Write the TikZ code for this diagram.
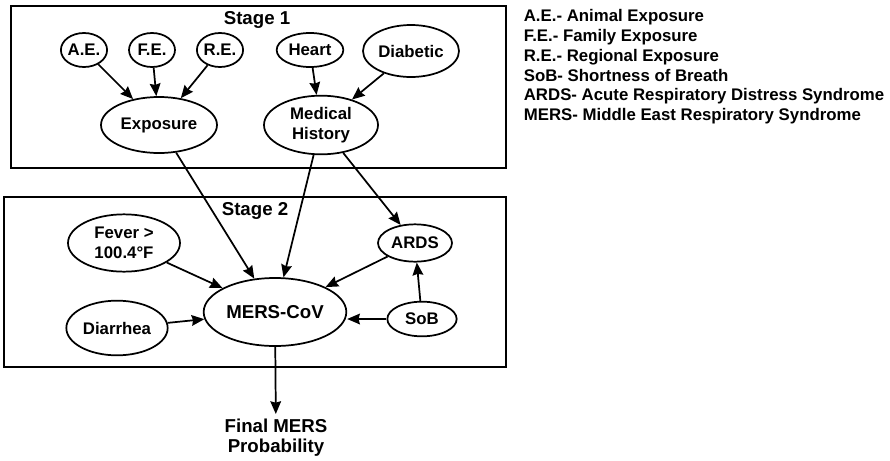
\documentclass[tikz,border=0pt]{standalone}
\usepackage{fontspec}
\setmainfont{Liberation Sans}
\usetikzlibrary{arrows.meta}
\usetikzlibrary{positioning}
\usetikzlibrary{shapes.geometric}

\begin{document}
\begin{tikzpicture}[x=0.75pt, y=-0.75pt, ->, >={Stealth[length=9.5pt, width=8pt, inset=1pt]}, line width=1.3pt,
    font=\fontsize{12.6}{15}\selectfont\bfseries]
    \tikzstyle{var}=[ellipse, draw, inner sep=0pt, align=center]
    \tikzstyle{big}=[font=\fontsize{14}{15}\selectfont\bfseries]
    \tikzstyle{stagebox}=[draw, -, line width=1.7pt]
    \tikzstyle{legend}=[anchor=base west, inner sep=0pt]

    \useasboundingbox (0,0) rectangle (890,461);

    % the two stages
    \draw[stagebox] (11,6) rectangle (506,168);
    \draw[stagebox] (4,197) rectangle (506,367);
    \node[big] (stage1) at (257,20) {Stage 1};
    \node[big] (stage2) at (255,211) {Stage 2};

    % stage 1
    \node[var, minimum width=33pt, minimum height=25.5pt] (ae) at (84,50) {A.E.};
    \node[var, minimum width=34.5pt, minimum height=25.5pt] (fe) at (152,50) {F.E.};
    \node[var, minimum width=34pt, minimum height=25.5pt] (re) at (220,50) {R.E.};
    \node[var, minimum width=50pt, minimum height=25.5pt] (heart) at (310,50) {Heart};
    \node[var, minimum width=72pt, minimum height=39pt] (diab) at (411,51) {Diabetic};
    \node[var, minimum width=87pt, minimum height=42pt] (expo) at (159,125) {Exposure};
    \node[var, minimum width=85.5pt, minimum height=44pt] (medh) at (321,125) {Medical\\History};

    % stage 2
    \node[var, minimum width=84pt, minimum height=43pt] (fever) at (124,243) {Fever >\\100.4°F};
    \node[var, minimum width=76pt, minimum height=41pt] (diar) at (117,328) {Diarrhea};
    \node[var, big, minimum width=107pt, minimum height=51pt] (mers) at (275,312) {MERS-CoV};
    \node[var, minimum width=55.5pt, minimum height=28pt] (ards) at (415,243) {ARDS};
    \node[var, minimum width=52pt, minimum height=26pt] (sob) at (422,319) {SoB};

    \node[big, align=center] (final) at (276,438) {Final MERS\\Probability};

    % legend
    \node[legend] (leg1) at (523,21) {A.E.- Animal Exposure};
    \node[legend] (leg2) at (523,41) {F.E.- Family Exposure};
    \node[legend] (leg3) at (523,61) {R.E.- Regional Exposure};
    \node[legend] (leg4) at (523,81) {SoB- Shortness of Breath};
    \node[legend] (leg5) at (523,100) {ARDS- Acute Respiratory Distress Syndrome};
    \node[legend] (leg6) at (523,120) {MERS- Middle East Respiratory Syndrome};

    \draw (ae) -- (expo);
    \draw (fe) -- (expo);
    \draw (re) -- (expo);
    \draw (heart) -- (medh);
    \draw (diab) -- (medh);
    \draw (expo) -- (mers);
    \draw (medh) -- (mers);
    \draw (medh) -- (ards);
    \draw (fever) -- (mers);
    \draw (diar) -- (mers);
    \draw (ards) -- (mers);
    \draw (sob) -- (ards);
    \draw (sob.west) -- (sob.west -| mers.east);
    \draw (mers) -- (final);
\end{tikzpicture}
\end{document}
